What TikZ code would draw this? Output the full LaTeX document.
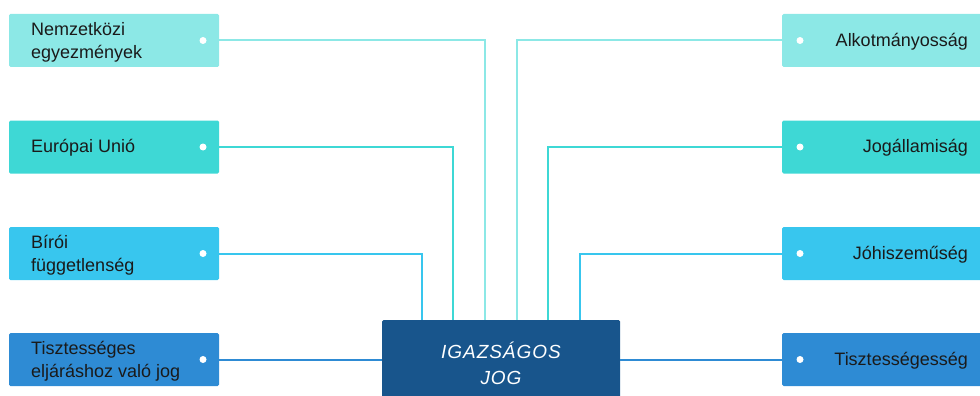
\documentclass[tikz,border=0pt]{standalone}
\usepackage{fontspec}
\setmainfont{Liberation Sans}
\definecolor{cA}{HTML}{8CE8E6}
\definecolor{cB}{HTML}{3ED8D5}
\definecolor{cC}{HTML}{38C6EE}
\definecolor{cD}{HTML}{2E8BD4}
\definecolor{cM}{HTML}{18558C}
\definecolor{tx}{HTML}{1A1A1A}
\tikzset{
  box/.style={draw=none, rounded corners=1.5pt, minimum height=53pt, inner sep=0pt},
  lbox/.style={box, minimum width=210pt},
  rbox/.style={box, minimum width=200pt},
  lbl/.style={font=\fontsize{18}{23}\selectfont, text=tx, inner sep=0pt},
  dotm/.style={circle, fill=white, minimum size=7pt, inner sep=0pt},
  conn/.style={line width=2pt},
}
\begin{document}
\begin{tikzpicture}[x=1pt,y=-1pt]
\useasboundingbox (0,0) rectangle (980,396);
% left boxes
\node[lbox, fill=cA] (l1) at (114,40.5) {};
\node[lbox, fill=cB] (l2) at (114,147) {};
\node[lbox, fill=cC] (l3) at (114,253.5) {};
\node[lbox, fill=cD] (l4) at (114,359.5) {};
% right boxes
\node[rbox, fill=cA] (r1) at (882,40.5) {};
\node[rbox, fill=cB] (r2) at (882,147) {};
\node[rbox, fill=cC] (r3) at (882,253.5) {};
\node[rbox, fill=cD] (r4) at (882,359.5) {};
% junction coordinates on top of the centre box
\coordinate (j1) at (485,330);
\coordinate (j2) at (453,330);
\coordinate (j3) at (422,330);
\coordinate (k1) at (517,330);
\coordinate (k2) at (548,330);
\coordinate (k3) at (580,330);
% connectors
\draw[conn, cA] (l1.east) -| (j1);
\draw[conn, cB] (l2.east) -| (j2);
\draw[conn, cC] (l3.east) -| (j3);
\draw[conn, cA] (r1.west) -| (k1);
\draw[conn, cB] (r2.west) -| (k2);
\draw[conn, cC] (r3.west) -| (k3);
% centre box
\node[draw=none, fill=cM, rounded corners=1.5pt, minimum width=238pt, minimum height=90pt, inner sep=0pt] (c) at (501,365) {};
\draw[conn, cD] (l4.east) -- (c.west |- l4.east);
\draw[conn, cD] (c.east |- r4.west) -- (r4.west);
\node[text=white, font=\fontsize{19}{26}\selectfont\itshape\addfontfeature{LetterSpace=5}, align=center, inner sep=0pt] (ct) at (501,363) {IGAZSÁGOS\\JOG};
% dots
\node[dotm] (dl1) at (203,40.5) {};
\node[dotm] (dl2) at (203,147) {};
\node[dotm] (dl3) at (203,253.5) {};
\node[dotm] (dl4) at (203,359.5) {};
\node[dotm] (dr1) at (800,40.5) {};
\node[dotm] (dr2) at (800,147) {};
\node[dotm] (dr3) at (800,253.5) {};
\node[dotm] (dr4) at (800,359.5) {};
% labels
\node[lbl, anchor=west, align=left] (tl1) at (31,42) {Nemzetközi\\egyezmények};
\node[lbl, anchor=west, align=left] (tl2) at (31,148) {Európai Unió};
\node[lbl, anchor=west, align=left] (tl3) at (31,255) {Bírói\\függetlenség};
\node[lbl, anchor=west, align=left] (tl4) at (31,361) {Tisztességes\\eljáráshoz való jog};
\node[lbl, anchor=east] (tr1) at (968,42) {Alkotmányosság};
\node[lbl, anchor=east] (tr2) at (968,148) {Jogállamiság};
\node[lbl, anchor=east] (tr3) at (968,255) {Jóhiszeműség};
\node[lbl, anchor=east] (tr4) at (968,361) {Tisztességesség};
\end{tikzpicture}
\end{document}
